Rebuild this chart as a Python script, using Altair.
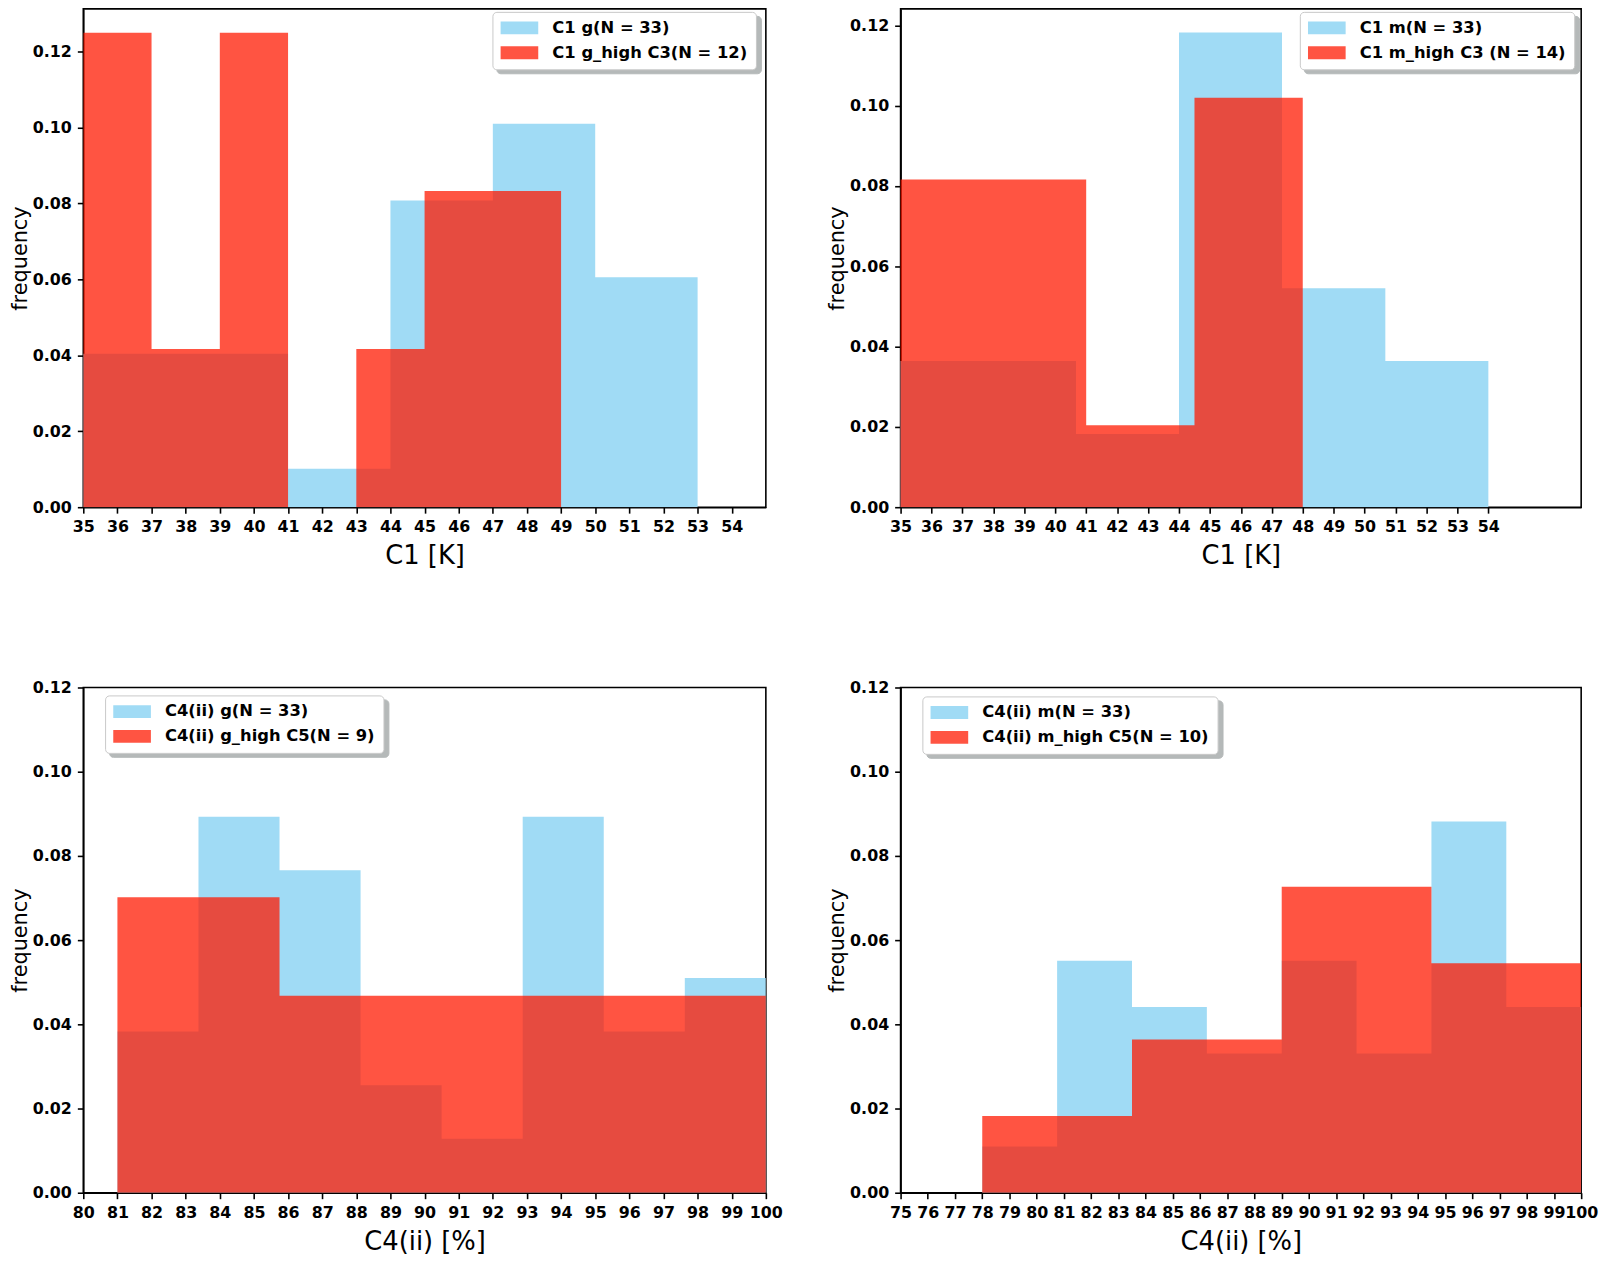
import altair as alt
import pandas as pd

# ---------------- data (frequency values) ----------------
# Panel 1 (top-left): C1 g
tl_blue_edges = [35, 38, 41, 44, 47, 50, 53]
tl_blue_freq = [0.0404, 0.0404, 0.0101, 0.0808, 0.1010, 0.0606]
tl_red_edges = [35, 37, 39, 41, 43, 45, 47, 49]
tl_red_freq = [0.125, 0.0417, 0.125, 0.0, 0.0417, 0.0833, 0.0833]
tl_labels = ["C1 g(N = 33)", "C1 g_high C3(N = 12)"]

# Panel 2 (top-right): C1 m
tr_blue_edges = [34, 37.33, 40.67, 44, 47.33, 50.67, 54]
tr_blue_freq = [0.0364, 0.0364, 0.0182, 0.1182, 0.0545, 0.0364]
tr_red_edges = [34, 37.5, 41, 44.5, 48]
tr_red_freq = [0.0816, 0.0816, 0.0204, 0.1020]
tr_labels = ["C1 m(N = 33)", "C1 m_high C3 (N = 14)"]

# Panel 3 (bottom-left): C4(ii) g
bl_blue_edges = [81, 83.375, 85.75, 88.125, 90.5, 92.875, 95.25, 97.625, 100]
bl_blue_freq = [0.0383, 0.0893, 0.0766, 0.0255, 0.0128, 0.0893, 0.0383, 0.0510]
bl_red_edges = [81, 85.75, 90.5, 95.25, 100]
bl_red_freq = [0.0702, 0.0468, 0.0468, 0.0468]
bl_labels = ["C4(ii) g(N = 33)", "C4(ii) g_high C5(N = 9)"]

# Panel 4 (bottom-right): C4(ii) m
br_blue_edges = [78, 80.75, 83.5, 86.25, 89, 91.75, 94.5, 97.25, 100]
br_blue_freq = [0.0110, 0.0551, 0.0441, 0.0331, 0.0551, 0.0331, 0.0882, 0.0441]
br_red_edges = [78, 83.5, 89, 94.5, 100]
br_red_freq = [0.0182, 0.0364, 0.0727, 0.0545]
br_labels = ["C4(ii) m(N = 33)", "C4(ii) m_high C5(N = 10)"]

y_ticks = [0.0, 0.02, 0.04, 0.06, 0.08, 0.10, 0.12]

BLUE = "#a0dbf5"
RED = "rgba(255,24,0,0.74)"
SHADOW = "#b5b9b9"
FONT = "DejaVu Sans"
LEGEND_FONT_SIZE = 16.5
SYMBOL_SIZE = 231
LEGEND_SYMBOL = "M-2.5,-0.85L2.5,-0.85L2.5,0.85L-2.5,0.85Z"
ZWSP = "\u200b"  # keeps the shadow legend's domain distinct from the real one

# approximate DejaVu Sans Bold advance widths (em) used to size the shadow box
BOLD_EM = {" ": 0.348, "(": 0.457, ")": 0.457, "=": 0.838, "_": 0.5,
           "C": 0.734, "N": 0.837, "g": 0.716, "h": 0.712, "i": 0.343,
           "m": 1.042}


def shadow_symbol(labels):
    # one wide invisible bar per row spanning symbol + gap + longest label
    text_px = max(sum(BOLD_EM.get(ch, 0.696) for ch in s) for s in labels) * LEGEND_FONT_SIZE
    unit = (SYMBOL_SIZE ** 0.5) / 2.0
    right = (38 + 15.5 + text_px - 19) / unit
    return "M-2.5,-0.85L%.2f,-0.85L%.2f,0.85L-2.5,0.85Z" % (right, right)


LEGEND_COMMON = dict(
    title=None, orient="none", padding=8, cornerRadius=4,
    labelFont=FONT, labelFontSize=LEGEND_FONT_SIZE, labelFontWeight="bold",
    labelLimit=600, symbolSize=SYMBOL_SIZE, symbolStrokeWidth=0,
    symbolOffset=11, labelOffset=25, rowPadding=8,
)


def step_frame(edges, freq, label):
    # one point per bin edge; the last edge repeats the last bin's height
    ys = list(freq) + [freq[-1]]
    return pd.DataFrame({"x": edges, "freq": ys, "series": label,
                         "shade": label + ZWSP})


def panel(blue_edges, blue_freq, red_edges, red_freq, labels,
          xdomain, xticks, ydomain, xtitle, lx, ly, w, h):
    xenc = alt.X("x:Q", scale=alt.Scale(domain=xdomain, nice=False, zero=False),
                 axis=alt.Axis(values=xticks, title=xtitle, format="d"))
    yenc = alt.Y("freq:Q", scale=alt.Scale(domain=ydomain, nice=False, zero=True),
                 axis=alt.Axis(values=y_ticks, format=".2f", title="frequency"))
    cenc = alt.Color(
        "series:N",
        scale=alt.Scale(domain=labels, range=[BLUE, RED]),
        legend=alt.Legend(
            legendX=lx, legendY=ly, fillColor="white", strokeColor="#c8c8c8",
            labelColor="black", zindex=3, symbolType=LEGEND_SYMBOL,
            **LEGEND_COMMON,
        ),
    )
    # invisible layer whose blank legend draws the legend's drop shadow
    senc = alt.Fill(
        "shade:N",
        scale=alt.Scale(domain=[s + ZWSP for s in labels], range=[SHADOW, SHADOW]),
        legend=alt.Legend(
            legendX=lx + 4, legendY=ly + 4, fillColor=SHADOW,
            strokeColor=SHADOW, labelExpr="''", labelOpacity=0,
            symbolOpacity=0, zindex=2, symbolType=shadow_symbol(labels),
            **LEGEND_COMMON,
        ),
    )
    bdf = step_frame(blue_edges, blue_freq, labels[0])
    rdf = step_frame(red_edges, red_freq, labels[1])
    blue = alt.Chart(bdf).mark_area(
        interpolate="step-after", clip=True, opacity=1
    ).encode(x=xenc, y=yenc, color=cenc)
    red = alt.Chart(rdf).mark_area(
        interpolate="step-after", clip=True, opacity=1
    ).encode(x=xenc, y=yenc, color=cenc)
    ghost = alt.Chart(pd.concat([bdf, rdf])).mark_point(
        opacity=0, clip=True, size=1, shape=shadow_symbol(labels)
    ).encode(x=xenc, y=yenc, fill=senc)
    return alt.layer(blue, red, ghost).properties(width=w, height=h)


tl = panel(tl_blue_edges, tl_blue_freq, tl_red_edges, tl_red_freq, tl_labels,
           [35, 55], list(range(35, 55)), [0, 0.13125], "C1 [K]", 413, 3, 689, 503)
tr = panel(tr_blue_edges, tr_blue_freq, tr_red_edges, tr_red_freq, tr_labels,
           [35, 57], list(range(35, 55)), [0, 0.1241], "C1 [K]", 403, 3, 687, 503)
bl = panel(bl_blue_edges, bl_blue_freq, bl_red_edges, bl_red_freq, bl_labels,
           [80, 100], list(range(80, 101)), [0, 0.12], "C4(ii) [%]", 22, 8, 689, 510)
br = panel(br_blue_edges, br_blue_freq, br_red_edges, br_red_freq, br_labels,
           [75, 100], list(range(75, 101)), [0, 0.12], "C4(ii) [%]", 22, 9, 687, 510)

chart = alt.concat(
    tl, tr, bl, br, columns=2, spacing={"row": 182, "column": 136}, bounds="flush"
).resolve_scale(
    color="independent", fill="independent", x="independent", y="independent"
).resolve_legend(
    color="independent", fill="independent"
).properties(
    padding={"top": -6, "left": 0, "right": 0, "bottom": 0}, background="white"
).configure_view(
    stroke="black", strokeWidth=1.6
).configure_axis(
    grid=False, domainColor="black", domainWidth=1.6, tickColor="black",
    tickWidth=1.6, tickSize=6, labelFont=FONT, labelFontSize=16,
    labelFontWeight="bold", labelColor="black", titleFont=FONT,
    titleColor="black", titleFontWeight="normal", labelOverlap=False,
    labelFlush=False, zindex=1,
).configure_axisX(
    labelPadding=6, titlePadding=8, titleFontSize=26
).configure_axisY(
    labelPadding=6, titlePadding=2, titleFontSize=21
)

chart.save("out.html", embed_options={"renderer": "svg", "actions": False})
